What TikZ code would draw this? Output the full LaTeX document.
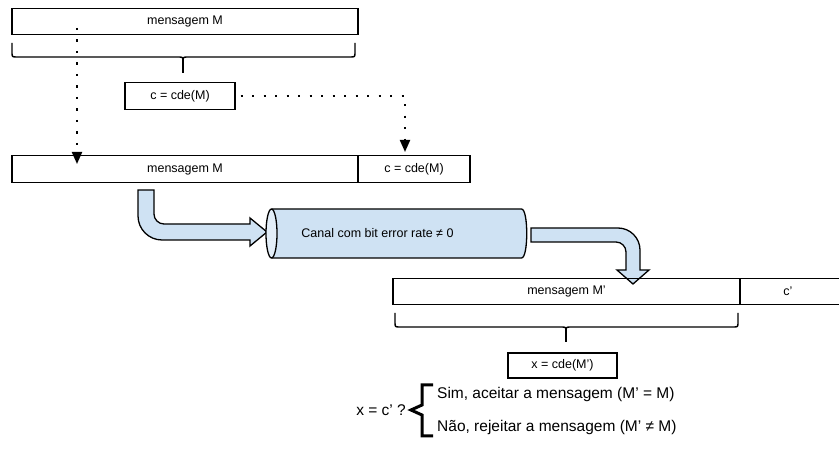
\documentclass[tikz,border=0pt]{standalone}
\usepackage{fontspec}
\setmainfont{Liberation Sans}
\usetikzlibrary{arrows.meta}
\definecolor{lblue}{HTML}{CFE2F3}
\definecolor{lblue2}{HTML}{E3EEF8}
\tikzset{
  box/.style={draw, line width=1.3pt, inner sep=0pt, minimum height=26.5pt, font=\fontsize{12.5}{15}\selectfont},
  lbl/.style={inner sep=0pt, font=\fontsize{12.5}{15}\selectfont},
  big/.style={inner sep=0pt, font=\fontsize{15.5}{18}\selectfont},
  brace/.style={line width=1.4pt},
  dotarrow/.style={line width=2pt, dash pattern=on 2.2pt off 9.3pt, -{Triangle[width=10pt,length=12pt]}},
  blockarrow/.style={draw, line width=1.3pt, fill=lblue, line join=miter},
}
\begin{document}
\begin{tikzpicture}[x=1pt,y=-1pt]
\useasboundingbox (0,0) rectangle (839,454);
\clip (0,0) rectangle (839,454);
% top message
\node[box, minimum width=346pt] (top) at (185,21.5) {mensagem M};
% top brace
\draw[brace] (12,43) -- (12,52) .. controls (12,57) .. (17,57) -- (178,57) .. controls (183,57) .. (183,62);
\draw[brace] (355,43) -- (355,52) .. controls (355,57) .. (350,57) -- (188,57) .. controls (183,57) .. (183,62);
\draw[line width=2.4pt] (183,60) -- (183,73);
% c box
\node[box, minimum width=110pt] (cbox) at (180,96) {c = cde(M)};
% second bar
\node[box, minimum width=346pt] (barm) at (185,169) {mensagem M};
\node[box, minimum width=112pt] (barc) at (414,169) {c = cde(M)};
% dotted connectors
\coordinate (d1s) at (77,28);
\coordinate (d1e) at (77,164);
\coordinate (d2e) at (405,152);
\draw[dotarrow] (d1s) -- (d1e);
\draw[dotarrow] ([xshift=5pt]cbox.east) -| (d2e);
% block arrow 1
\draw[blockarrow] (138,190) -- (154,190) -- (154,214)
  .. controls (154,219.5) and (158.5,224) .. (164,224) -- (250,224) -- (250,218)
  -- (267,232) -- (250,246) -- (250,240) -- (162,240)
  .. controls (148.8,240) and (138,229.2) .. (138,216) -- cycle;
% cylinder
\draw[line width=1.3pt, fill=lblue] (271.5,209) -- (521.5,209)
  .. controls (528.5,209) and (528.5,258) .. (521.5,258) -- (271.5,258);
\draw[line width=1.3pt, fill=lblue2] (271.5,233.5) ellipse [x radius=5.5pt, y radius=24.5pt];
\node[lbl] (canal) at (377.5,233.5) {Canal com bit error rate ≠ 0};
% block arrow 2
\draw[blockarrow] (531,228) -- (618,228)
  .. controls (630.1,228) and (640,237.9) .. (640,250) -- (640,270) -- (649,270)
  -- (633,284) -- (617,270) -- (626,270) -- (626,252)
  .. controls (626,246.5) and (621.5,242) .. (616,242) -- (531,242) -- cycle;
% third bar
\node[box, minimum width=347pt] (barm2) at (566.5,291.5) {mensagem M’};
\node[box, minimum width=110pt] (barc2) at (795,291.5) {};
\node[lbl] (cprime) at (788,291.5) {c’};
% bottom brace
\draw[brace] (395,313) -- (395,322) .. controls (395,327) .. (400,327) -- (561,327) .. controls (566,327) .. (566,332);
\draw[brace] (738,313) -- (738,322) .. controls (738,327) .. (733,327) -- (571,327) .. controls (566,327) .. (566,332);
\draw[line width=2.4pt] (566,330) -- (566,342);
% x box
\node[box, minimum width=109pt, minimum height=25pt] (xbox) at (562.5,365.5) {x = cde(M’)};
% decision
\node[big, anchor=east] (q) at (406,410) {x = c’ ?};
\draw[line width=3pt] (433,385) -- (422,385) -- (422,405) -- (411,410) -- (422,415) -- (422,436) -- (433,436);
\node[big, anchor=west] (sim) at (437,394) {Sim, aceitar a mensagem (M’ = M)};
\node[big, anchor=west] (nao) at (437,427) {Não, rejeitar a mensagem (M’ ≠ M)};
\end{tikzpicture}
\end{document}
